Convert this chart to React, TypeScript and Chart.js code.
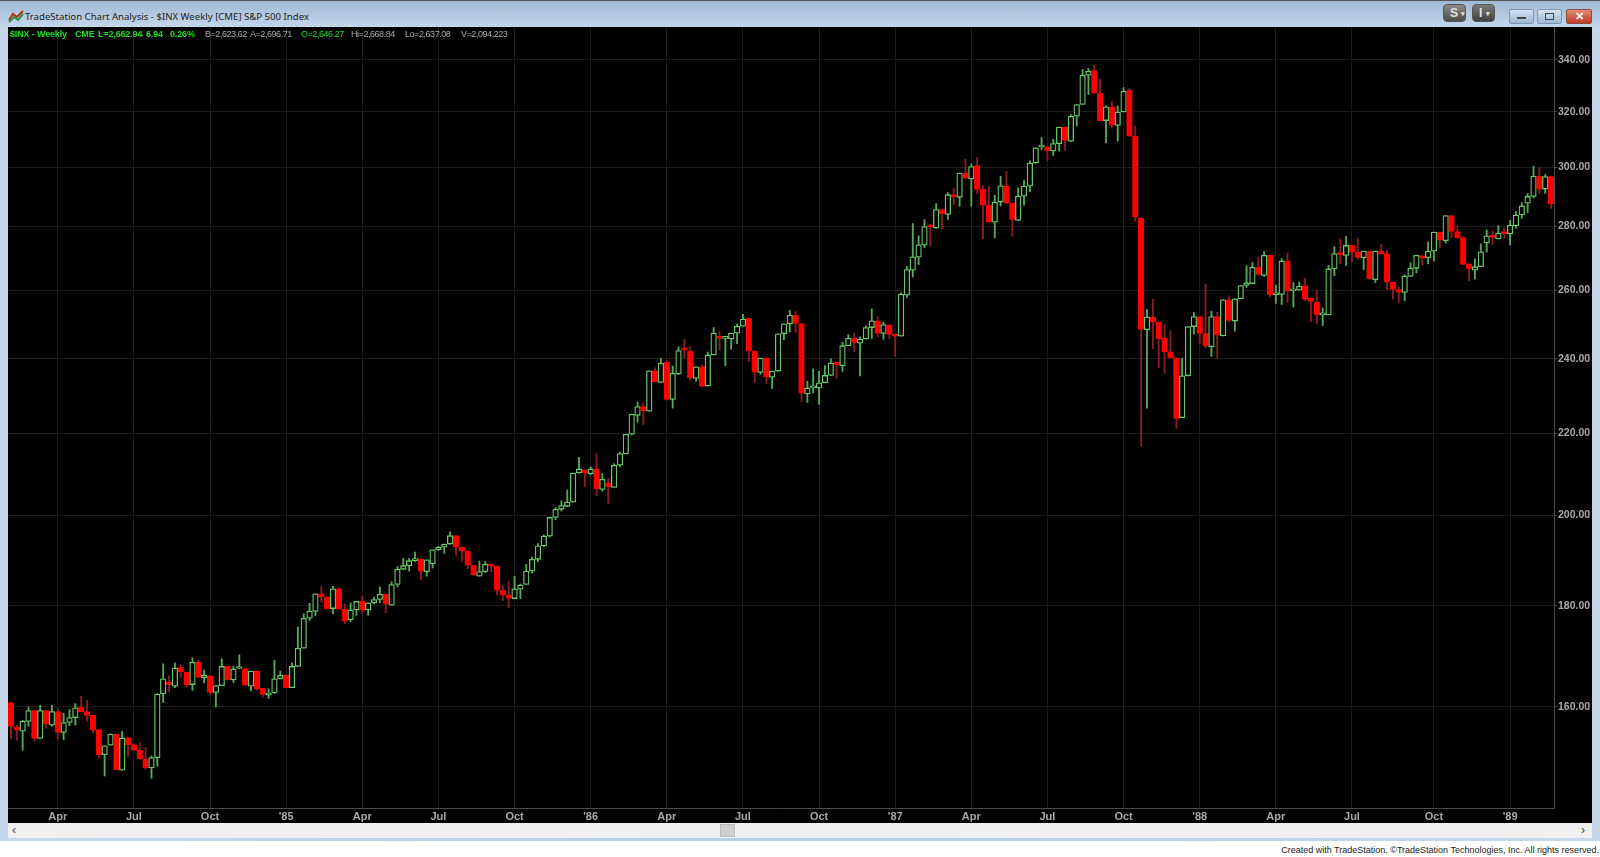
import React, { useEffect, useRef } from "react";
import { Chart, registerables } from "chart.js";

Chart.register(...registerables);

const opens = [
160.8,156.3,155.5,157.3,159.3,154.2,159.3,156.6,159.1,155.3,157.1,158.0,159.9,159.1,158.4,155.8,151.3,153.0,155.0,148.6,
154.3,153.1,152.1,150.6,149.0,150.8,162.4,164.7,163.9,167.5,166.6,164.2,168.5,165.5,165.9,162.7,164.0,167.7,165.1,167.3,
167.3,163.9,166.8,163.5,162.2,162.6,165.3,166.0,163.6,167.7,171.3,177.4,178.8,182.5,181.8,179.4,183.6,179.3,177.1,179.1,
180.9,179.1,180.6,181.3,182.4,180.1,184.5,187.8,188.6,189.7,190.0,187.3,189.0,192.1,192.7,193.4,195.3,192.7,191.8,188.7,
186.3,187.3,188.9,188.5,183.3,182.3,181.5,183.5,184.5,187.4,190.0,193.0,195.2,199.5,201.4,202.1,203.1,210.1,210.8,209.9,
211.1,206.1,207.7,206.6,212.0,214.8,219.8,224.7,227.0,225.8,236.7,233.5,239.0,228.9,235.8,242.7,242.2,234.6,237.8,232.5,
241.1,246.1,245.8,245.6,247.3,249.3,251.6,242.2,236.2,240.2,234.9,236.6,247.1,250.0,252.5,250.1,230.4,232.0,232.0,233.4,
235.4,239.0,238.1,243.7,245.8,244.4,245.6,248.9,250.9,247.2,249.7,247.0,246.4,258.5,266.1,270.2,274.0,280.6,279.5,285.6,
284.0,290.6,289.7,298.0,296.0,300.6,292.4,287.1,281.4,288.1,293.6,287.7,282.0,290.1,293.5,301.5,307.2,307.3,305.8,308.4,
314.4,309.3,318.4,322.8,334.0,335.8,327.1,316.8,321.9,315.0,320.0,328.2,311.1,282.8,248.3,252.0,250.5,245.9,242.0,240.3,
224.1,235.3,249.2,252.1,247.2,243.4,252.1,246.5,257.1,250.8,257.4,261.4,262.0,267.0,264.5,270.8,258.6,258.7,269.0,259.8,
260.0,261.3,257.5,256.4,252.6,252.6,266.5,271.3,270.7,273.9,271.8,270.0,272.1,263.2,272.1,271.3,262.4,260.2,259.3,264.2,
266.7,270.6,270.0,272.1,278.2,275.4,283.6,278.4,276.4,268.1,266.1,267.2,274.7,277.0,276.0,277.9,277.6,280.2,283.8,287.7,
290.0,297.0,292.5,296.8,
];
const highs = [
160.8,156.6,157.5,159.9,159.3,160.3,159.3,160.3,159.7,158.8,159.5,160.6,162.0,161.2,158.4,155.8,152.9,155.0,155.0,155.5,
154.4,153.1,153.5,152.6,151.1,162.5,168.2,165.9,168.4,168.0,166.6,169.4,169.0,167.0,165.9,164.0,169.2,167.7,167.7,170.0,
167.3,166.8,166.8,163.5,163.4,168.9,166.8,166.0,168.4,175.6,178.3,180.5,182.5,184.1,181.8,184.1,183.8,180.4,180.6,180.9,
182.0,180.6,181.8,184.0,182.4,185.1,188.4,190.2,190.2,191.6,190.0,189.9,192.1,192.9,193.4,196.2,195.3,192.7,191.8,188.7,
189.6,189.5,188.9,188.5,184.2,185.1,186.3,184.6,188.9,190.5,193.5,195.5,199.6,201.8,203.4,206.0,210.1,214.0,210.8,211.6,
214.9,209.9,208.7,212.4,215.3,219.8,225.0,228.2,227.8,236.7,237.5,240.2,239.7,238.0,243.4,245.5,243.4,237.8,238.3,241.9,
248.9,247.8,246.2,247.3,250.0,252.8,251.6,242.2,240.2,240.2,236.6,247.1,250.0,254.0,253.7,250.1,233.8,237.2,236.5,238.1,
240.0,239.0,244.7,246.9,247.4,246.2,249.3,254.4,252.1,250.5,249.7,247.0,259.2,267.3,281.0,277.0,282.3,280.8,287.6,285.6,
291.3,292.7,298.0,302.8,301.2,303.5,293.6,293.6,290.4,296.9,298.6,287.7,292.9,295.4,302.3,306.9,310.6,307.3,310.0,314.4,
314.4,319.0,322.8,336.2,336.6,338.1,332.4,322.2,324.1,322.2,329.2,328.8,314.8,282.8,254.2,257.3,250.5,249.8,248.0,240.3,
240.2,249.2,253.4,252.1,261.8,253.7,253.4,257.1,258.3,257.4,261.4,267.5,268.5,270.2,272.0,270.8,261.5,269.8,271.5,262.3,
262.5,263.7,257.5,260.0,254.7,267.6,273.5,276.0,276.8,273.9,276.3,272.1,272.1,272.1,274.2,272.4,262.4,261.0,264.7,268.4,
270.8,270.6,275.0,278.2,278.2,283.6,283.6,280.2,276.4,268.1,269.7,274.4,278.9,278.6,280.3,279.5,282.0,284.9,287.9,291.0,
300.4,300.0,297.5,297.0,
];
const lows = [
154.1,153.9,152.1,156.4,153.7,154.2,156.0,156.4,154.1,154.0,156.5,156.6,159.1,157.4,155.3,150.7,147.6,153.0,148.7,148.6,
151.0,152.0,150.6,148.8,147.2,149.3,160.8,162.8,163.6,165.6,163.7,163.1,165.5,164.5,162.3,160.0,164.0,165.1,164.6,167.3,
164.1,163.0,163.1,161.8,161.6,162.5,165.3,163.6,163.6,167.7,171.3,176.9,177.9,180.7,179.4,178.3,179.3,176.3,176.7,178.0,
178.5,178.0,180.4,180.6,178.5,180.1,184.0,187.8,187.4,189.5,185.5,186.3,188.1,192.0,191.3,193.4,190.9,189.6,187.9,186.5,
186.3,187.1,187.3,182.3,181.1,179.6,181.5,181.5,184.5,187.0,189.5,192.8,195.0,199.0,201.0,202.0,203.1,210.0,206.8,209.7,
204.6,205.7,202.8,206.6,211.6,214.8,219.6,222.9,222.3,225.8,233.7,233.4,228.7,226.6,235.6,240.2,234.1,233.8,232.3,232.5,
241.1,242.5,238.1,242.7,244.3,249.3,239.3,233.5,235.7,233.1,231.8,236.6,245.4,247.6,247.5,228.4,228.1,230.6,227.6,233.4,
235.4,234.6,236.5,243.7,242.0,235.3,245.6,245.8,246.2,245.5,245.7,240.7,246.4,257.8,264.0,267.9,273.2,273.7,279.5,279.2,
282.3,287.3,286.7,296.0,286.7,291.0,276.0,281.5,276.3,286.8,287.7,276.8,282.0,287.1,291.6,301.5,306.3,302.3,304.2,305.8,
306.0,309.1,314.8,322.8,326.6,327.1,316.8,308.7,314.0,309.3,320.0,311.1,281.8,216.8,226.6,242.8,237.5,236.0,240.3,221.3,
224.1,235.3,247.0,244.3,243.1,240.7,240.2,246.5,250.5,247.8,257.4,260.8,262.0,264.6,264.2,258.0,256.0,255.7,256.3,254.9,
260.0,256.8,250.7,250.0,249.5,252.6,264.4,268.2,267.6,268.9,269.5,266.3,263.4,262.3,271.3,260.2,257.3,256.3,256.8,264.2,
265.3,267.7,268.1,269.0,273.2,274.7,276.3,276.4,267.9,262.9,263.4,267.2,271.8,274.2,276.0,276.3,274.0,279.5,282.7,284.6,
289.5,291.0,291.0,286.0,
];
const closes = [
156.4,155.7,157.3,159.3,154.2,159.3,156.8,159.1,155.3,157.1,158.0,159.8,159.1,158.4,155.7,151.3,152.9,155.0,148.7,154.3,
153.1,152.1,150.6,149.0,150.8,162.4,165.3,164.2,167.4,166.7,164.2,168.5,165.6,166.0,162.7,164.0,167.7,165.1,167.2,167.6,
164.1,166.8,163.4,162.3,162.6,165.3,166.0,163.6,167.7,171.3,177.4,178.9,182.5,181.8,179.4,183.6,179.3,176.8,179.1,180.9,
179.1,180.6,181.3,182.4,180.3,184.5,187.8,188.6,189.7,189.9,187.4,189.9,192.1,192.7,193.4,195.3,192.7,191.8,188.7,186.5,
187.3,188.9,188.5,183.3,182.3,181.6,183.6,184.4,187.4,190.0,193.0,195.2,199.5,201.4,202.3,203.1,210.1,211.1,210.1,211.1,
206.3,208.6,206.7,212.0,214.9,219.8,225.0,227.0,225.9,236.7,233.7,238.8,228.9,236.0,242.3,242.4,234.8,237.8,232.5,241.1,
247.3,245.8,246.1,247.3,249.3,251.4,242.2,236.3,240.2,235.0,236.6,247.1,250.0,252.5,250.1,230.6,232.0,232.3,233.4,235.4,
238.8,238.3,243.7,245.8,244.6,245.6,248.9,250.9,247.2,249.8,246.9,246.4,258.8,266.3,270.3,274.1,280.0,279.8,285.6,284.2,
290.6,289.8,298.0,296.2,300.3,292.4,287.1,281.5,288.1,293.6,287.7,282.3,290.1,293.5,301.5,306.9,307.5,305.9,308.4,314.4,
309.6,318.4,322.8,334.0,335.5,327.1,316.8,321.9,315.2,320.0,327.9,311.1,283.2,248.4,252.0,250.5,245.7,242.0,240.3,223.9,
235.3,249.2,252.1,247.2,243.6,252.1,246.7,257.1,251.0,257.4,261.4,262.2,267.0,264.8,270.8,258.6,258.9,269.0,259.8,260.2,
261.2,257.3,256.6,252.6,252.8,266.5,271.3,271.0,273.9,271.8,270.1,272.1,263.4,272.1,271.3,262.6,260.2,259.4,264.3,266.7,
270.8,270.0,272.1,278.2,275.6,283.6,278.4,276.4,267.9,266.6,267.2,271.9,277.0,276.5,277.9,277.7,280.5,283.8,286.8,290.0,
297.0,292.5,296.8,287.5,
];

const quarterIndex = [8,21,34,47,60,73,86,99,112,125,138,151,164,177,190,203,216,229,243,256];
const quarterLabels = ["Apr","Jul","Oct","'85","Apr","Jul","Oct","'86","Apr","Jul","Oct","'87","Apr","Jul","Oct","'88","Apr","Jul","Oct","'89"];
const priceTicks = [160,180,200,220,240,260,280,300,320,340];

const categories: string[] = opens.map((_, i) => {
  const q = quarterIndex.indexOf(i);
  return q >= 0 ? quarterLabels[q] : "";
});

const RED = "#ff0000";
const RED_WICK = "#8a1f1f";
const GREEN = "#69c769";
const GREEN_WICK = "#56a956";

const statusParts: [number, string, string, boolean][] = [
  [10, "$INX - Weekly", "#22dd22", true],
  [75, "CME", "#22dd22", true],
  [98, "L=2,662.94", "#22dd22", true],
  [146, "6.94", "#22dd22", true],
  [170, "0.26%", "#22dd22", true],
  [205, "B=2,623.62", "#a8a8a8", false],
  [250, "A=2,696.71", "#a8a8a8", false],
  [301, "O=2,646.27", "#22dd22", false],
  [351, "Hi=2,668.84", "#a8a8a8", false],
  [405, "Lo=2,637.08", "#a8a8a8", false],
  [461, "V=2,094,223", "#a8a8a8", false],
];

const abs = (l: number, t: number, w: number, h: number, extra: React.CSSProperties = {}): React.CSSProperties => ({
  position: "absolute", left: l, top: t, width: w, height: h, ...extra,
});

const darkButton: React.CSSProperties = {
  borderRadius: 4, color: "#e2e2e2", fontSize: 12, fontWeight: "bold", lineHeight: "17px", paddingLeft: 6,
  boxSizing: "border-box", border: "1px solid #555", whiteSpace: "nowrap",
};

export default function App() {
  const ref = useRef<HTMLCanvasElement>(null);
  useEffect(() => {
    const isUp = (i: number) => closes[i] >= opens[i];
    const chart = new Chart(ref.current!, {
      type: "bar",
      data: {
        labels: categories,
        datasets: [
          {
            label: "Body",
            data: opens.map((o, i) => [o, closes[i]]),
            backgroundColor: opens.map((_, i) => (isUp(i) ? "#000000" : RED)),
            borderColor: opens.map((_, i) => (isUp(i) ? GREEN : RED)),
            borderWidth: 1.3,
            borderSkipped: false,
            barThickness: 5.6,
            minBarLength: 2,
            grouped: false,
            order: 1,
          } as any,
          {
            label: "Wick",
            data: lows.map((l, i) => [l, highs[i]]),
            backgroundColor: opens.map((_, i) => (isUp(i) ? GREEN_WICK : RED_WICK)),
            borderWidth: 0,
            barThickness: 1.2,
            grouped: false,
            order: 2,
          } as any,
        ],
      },
      options: {
        animation: false,
        responsive: false,
        maintainAspectRatio: false,
        layout: { padding: 0 },
        plugins: { legend: { display: false }, tooltip: { enabled: false }, title: { display: false } },
        scales: {
          x: {
            type: "category",
            offset: true,
            grid: { color: "#1d1d1d", offset: false, tickLength: 0, drawTicks: false },
            border: { color: "#4a4a4a" },
            afterBuildTicks: (s: any) => {
              s.ticks = s.ticks.filter((t: any) => categories[t.value] !== "");
            },
            afterFit: (s: any) => { s.height = 15; s.paddingLeft = 0; s.paddingRight = 0; },
            ticks: {
              autoSkip: false, maxRotation: 0, minRotation: 0, padding: 2,
              color: "#a8a8a8", font: { family: "Liberation Sans", size: 11, weight: "bold" },
              callback: (v: any) => categories[v],
            },
          },
          y: {
            type: "logarithmic",
            position: "right",
            min: 142.2,
            max: 353.3,
            grid: { color: "#1d1d1d", tickLength: 3, tickColor: "#4a4a4a" },
            border: { color: "#4a4a4a" },
            afterBuildTicks: (s: any) => { s.ticks = priceTicks.map((value) => ({ value })); },
            afterFit: (s: any) => { s.width = 38; s.paddingTop = 0; s.paddingBottom = 0; },
            ticks: {
              autoSkip: false, padding: 1,
              color: "#a8a8a8", font: { family: "Liberation Sans", size: 10.5, weight: "bold" },
              callback: (v: any) => Number(v).toFixed(2),
            },
          },
        },
      },
    } as any);
    return () => chart.destroy();
  }, []);

  return (
    <div style={abs(0, 0, 1600, 857, { background: "#ffffff", overflow: "hidden", fontFamily: "Liberation Sans" })}>
      <div style={abs(0, 0, 1600, 841, { background: "linear-gradient(90deg,#c6d8ea,#b7cee6 50%,#c6d8ea)", borderTop: "1px solid #555", boxSizing: "border-box" })} />
      <div style={abs(0, 0, 1600, 27, { background: "linear-gradient(180deg,#9fb9d3,#c3d7ec)", borderTop: "1px solid #555", boxSizing: "border-box" })} />
      <svg style={abs(8, 9, 16, 14)} viewBox="0 0 16 14">
        <polyline points="1,11 5,5 9,8 15,2" fill="none" stroke="#b03020" strokeWidth="2" />
        <polyline points="1,13 6,8 10,11 15,5" fill="none" stroke="#2f8f3f" strokeWidth="2" />
      </svg>
      <div style={{ position: "absolute", left: 25, top: 8, fontFamily: "Noto Sans", fontSize: 9.6, color: "#222", whiteSpace: "nowrap", lineHeight: "17px" }}>
        TradeStation Chart Analysis - $INX Weekly [CME] S&amp;P 500 Index
      </div>

      {/* Window buttons */}
      <div style={abs(1443, 4, 23, 18, { ...darkButton, background: "linear-gradient(180deg,#8a8a8a,#4c4c4c)" })}>S <span style={{ fontSize: 7, verticalAlign: 1 }}>▾</span></div>
      <div style={abs(1472, 4, 23, 18, { ...darkButton, background: "linear-gradient(180deg,#7a7a7a,#404040)" })}>I <span style={{ fontSize: 7, verticalAlign: 1 }}>▾</span></div>
      <div style={abs(1509, 9, 25, 15, { background: "linear-gradient(180deg,#d3e2f2,#9cb8d6)", border: "1px solid #7f97b0", borderRadius: 2, boxSizing: "border-box" })} />
      <div style={abs(1537, 9, 25, 15, { background: "linear-gradient(180deg,#d3e2f2,#9cb8d6)", border: "1px solid #7f97b0", borderRadius: 2, boxSizing: "border-box" })} />
      <div style={abs(1566, 9, 26, 15, { background: "linear-gradient(180deg,#e08a78,#c03a28)", border: "1px solid #8f4a40", borderRadius: 2, boxSizing: "border-box", color: "#fff", fontSize: 11, fontWeight: "bold", textAlign: "center", lineHeight: "13px" })}>✕</div>
      <div style={abs(1517, 17, 9, 2, { background: "#444" })} />
      <div style={abs(1545, 13, 9, 7, { border: "1px solid #444", boxSizing: "border-box" })} />

      {/* Chart pane */}
      <div style={abs(8, 27, 1584, 796, { background: "#000000" })}>
        <canvas ref={ref} width={1584} height={796} style={{ display: "block", width: 1584, height: 796 }} />
      </div>

      {/* Status line */}
      {statusParts.map(([x, text, color, bold]) => (
        <div key={text} style={{ position: "absolute", left: x, top: 28, fontSize: 9, letterSpacing: bold ? -0.15 : -0.45, lineHeight: "13px", color, fontWeight: bold ? "bold" : "normal", whiteSpace: "nowrap" }}>{text}</div>
      ))}

      {/* Scrollbar */}
      <div style={abs(8, 823, 1584, 15, { background: "#f0f0f0" })} />
      <div style={{ position: "absolute", left: 12, top: 823, fontSize: 12, lineHeight: "15px", color: "#444" }}>‹</div>
      <div style={{ position: "absolute", left: 1581, top: 823, fontSize: 12, lineHeight: "15px", color: "#444" }}>›</div>
      <div style={abs(720, 824, 15, 13, { background: "#cfcfcf", border: "1px solid #bbb", boxSizing: "border-box" })} />

      {/* Footer */}
      <div style={{ position: "absolute", right: 1, top: 843, fontSize: 9, lineHeight: "14px", color: "#222", whiteSpace: "nowrap" }}>
        Created with TradeStation. ©TradeStation Technologies, Inc. All rights reserved.
      </div>
    </div>
  );
}
